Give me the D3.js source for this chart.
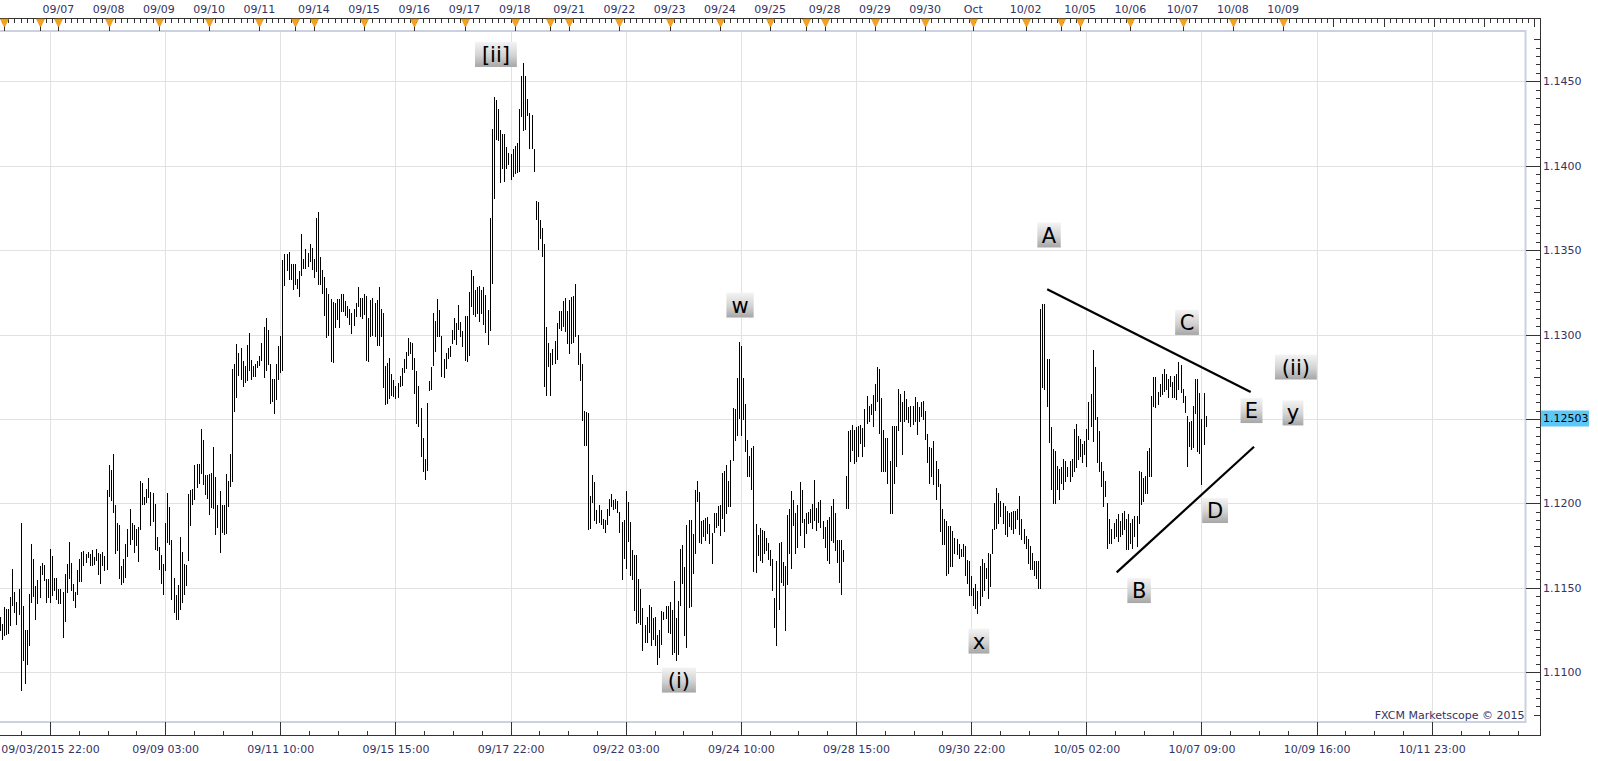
<!DOCTYPE html>
<html><head><meta charset="utf-8">
<script src="https://cdn.jsdelivr.net/npm/d3@7"></script>
<style>html,body{margin:0;padding:0;background:#fff;overflow:hidden}</style>
</head><body>
<svg id="chart" width="1598" height="761"></svg>
<script>
// ---- DATA (EUR/USD hourly bars, high / low) ----
const highs = [
1.11328,1.11288,1.11387,1.11377,1.11375,1.11446,1.11610,1.11476,1.11417,1.11492,
1.11886,1.11391,1.11249,1.11249,1.11466,1.11758,1.11669,1.11509,1.11545,1.11628,
1.11649,1.11634,1.11555,1.11555,1.11732,1.11687,1.11561,1.11561,1.11492,1.11492,
1.11476,1.11584,1.11640,1.11770,1.11647,1.11525,1.11476,1.11608,1.11673,1.11713,
1.11719,1.11703,1.11713,1.11703,1.11726,1.11683,1.11732,1.11709,1.11703,1.11713,
1.11687,1.12078,1.12226,1.12200,1.12291,1.11989,1.11886,1.11871,1.11628,1.11669,
1.11758,1.11851,1.11965,1.11886,1.11871,1.11851,1.11861,1.12131,1.12123,1.12038,
1.12088,1.12153,1.12068,1.12064,1.11999,1.11801,1.11742,1.11693,1.11640,1.11886,
1.12064,1.11979,1.11782,1.11561,1.11456,1.11515,1.11801,1.11713,1.11644,1.11638,
1.12058,1.12078,1.12084,1.12226,1.12236,1.12236,1.12439,1.12374,1.12171,1.12171,
1.12177,1.12182,1.12334,1.12157,1.11989,1.12072,1.11989,1.11989,1.12177,1.12131,
1.12291,1.12794,1.12824,1.12946,1.12893,1.12923,1.12842,1.12812,1.12936,1.13012,
1.12848,1.12812,1.12828,1.12844,1.12873,1.12952,1.13043,1.13100,1.13029,1.12828,
1.12739,1.12735,1.12828,1.12934,1.12990,1.13440,1.13479,1.13475,1.13489,1.13420,
1.13416,1.13416,1.13331,1.13377,1.13593,1.13445,1.13508,1.13481,1.13534,1.13514,
1.13445,1.13692,1.13727,1.13461,1.13380,1.13342,1.13277,1.13238,1.13208,1.13194,
1.13188,1.13212,1.13208,1.13242,1.13238,1.13198,1.13169,1.13149,1.13129,1.13153,
1.13188,1.13283,1.13218,1.13218,1.13238,1.13228,1.13100,1.13204,1.13218,1.13188,
1.13204,1.13283,1.13149,1.13129,1.12813,1.12833,1.12863,1.12764,1.12734,1.12695,
1.12715,1.12754,1.12803,1.12853,1.12896,1.12981,1.12955,1.12948,1.12863,1.12784,
1.12695,1.12567,1.12389,1.12261,1.12596,1.12724,1.12809,1.13129,1.13080,1.13208,
1.13143,1.12991,1.12857,1.12888,1.12918,1.12932,1.13030,1.13098,1.13070,1.13178,
1.13074,1.13021,1.13109,1.13113,1.13253,1.13380,1.13346,1.13267,1.13283,1.13287,
1.13267,1.13283,1.13232,1.13143,1.13692,1.14215,1.14408,1.14389,1.14333,1.14209,
1.14185,1.14189,1.14112,1.14077,1.14067,1.14100,1.14116,1.14136,1.14337,1.14531,
1.14606,1.14531,1.14396,1.14314,1.14298,1.14102,1.13790,1.13786,1.13676,1.13632,
1.13534,1.13044,1.12951,1.12892,1.12912,1.12961,1.13070,1.13139,1.13139,1.13198,
1.13218,1.13139,1.13204,1.13224,1.13228,1.13297,1.12995,1.12888,1.12823,1.12547,
1.12541,1.12537,1.12043,1.12166,1.12128,1.11964,1.11992,1.11962,1.11907,1.11903,
1.11966,1.12026,1.12057,1.12022,1.12026,1.12012,1.11952,1.11893,1.11903,1.12075,
1.12006,1.11893,1.11725,1.11695,1.11695,1.11550,1.11491,1.11378,1.11279,1.11329,
1.11398,1.11384,1.11319,1.11329,1.11220,1.11253,1.11362,1.11358,1.11392,1.11394,
1.11418,1.11368,1.11541,1.11323,1.11422,1.11729,1.11754,1.11626,1.11873,1.11903,
1.11903,1.11818,1.12081,1.12135,1.12065,1.11897,1.11903,1.11913,1.11917,1.11879,
1.11824,1.11946,1.11946,1.11986,1.11992,1.12180,1.12190,1.12230,1.12135,1.12259,
1.12566,1.12560,1.12744,1.12958,1.12932,1.12744,1.12586,1.12374,1.12279,1.12329,
1.12338,1.11879,1.11814,1.11853,1.11843,1.11834,1.11794,1.11764,1.11725,1.11669,
1.11438,1.11659,1.11764,1.11774,1.11655,1.11630,1.11933,1.11966,1.12071,1.12022,
1.11942,1.11992,1.12127,1.12081,1.11907,1.11942,1.11952,1.11966,1.11996,1.12140,
1.11972,1.12006,1.12022,1.11897,1.11863,1.11903,1.11917,1.11982,1.12026,1.11942,
1.11784,1.11784,1.11784,1.11725,1.12160,1.12428,1.12437,1.12467,1.12437,1.12453,
1.12461,1.12467,1.12447,1.12560,1.12635,1.12580,1.12586,1.12645,1.12705,1.12808,
1.12798,1.12626,1.12437,1.12388,1.12388,1.12249,1.12457,1.12457,1.12461,1.12675,
1.12648,1.12599,1.12668,1.12619,1.12569,1.12579,1.12579,1.12629,1.12599,1.12569,
1.12599,1.12609,1.12549,1.12411,1.12332,1.12326,1.12371,1.12252,1.12203,1.12114,
1.11965,1.11906,1.11896,1.11866,1.11866,1.11837,1.11797,1.11787,1.11757,1.11728,
1.11757,1.11748,1.11668,1.11658,1.11569,1.11500,1.11520,1.11480,1.11629,1.11672,
1.11649,1.11619,1.11708,1.11698,1.11847,1.12005,1.12094,1.12064,1.12015,1.12005,
1.11985,1.11955,1.11946,1.11949,1.11955,1.11955,1.11965,1.12045,1.11906,1.11847,
1.11807,1.11787,1.11748,1.11708,1.11658,1.11658,1.11658,1.13153,1.13183,1.13183,
1.12856,1.12856,1.12450,1.12322,1.12312,1.12223,1.12203,1.12213,1.12262,1.12252,
1.12213,1.12252,1.12262,1.12441,1.12470,1.12401,1.12381,1.12351,1.12371,1.12441,
1.12599,1.12648,1.12906,1.12807,1.12510,1.12431,1.12243,1.12193,1.12134,1.12005,
1.11906,1.11847,1.11886,1.11906,1.11936,1.11896,1.11946,1.11955,1.11906,1.11936,
1.11886,1.11906,1.11926,1.11926,1.12193,1.12187,1.12153,1.12163,1.12312,1.12326,
1.12639,1.12747,1.12747,1.12658,1.12708,1.12767,1.12797,1.12767,1.12738,1.12757,
1.12718,1.12757,1.12767,1.12840,1.12817,1.12678,1.12639,1.12520,1.12480,1.12490,
1.12579,1.12735,1.12735,1.12656,1.12498,1.12656,1.12518
];
const lows = [
1.11249,1.11199,1.11219,1.11229,1.11232,1.11278,1.11397,1.11357,1.11288,1.11343,
1.10895,1.11071,1.10937,1.11051,1.11160,1.11417,1.11450,1.11316,1.11411,1.11446,
1.11584,1.11549,1.11417,1.11446,1.11417,1.11460,1.11486,1.11436,1.11411,1.11413,
1.11209,1.11304,1.11476,1.11559,1.11486,1.11426,1.11387,1.11466,1.11541,1.11541,
1.11634,1.11653,1.11683,1.11634,1.11638,1.11644,1.11663,1.11584,1.11529,1.11634,
1.11604,1.11614,1.12042,1.12023,1.11950,1.11707,1.11722,1.11559,1.11525,1.11535,
1.11565,1.11689,1.11762,1.11792,1.11713,1.11752,1.11659,1.11851,1.11999,1.11995,
1.12009,1.12038,1.11874,1.11894,1.11732,1.11722,1.11614,1.11531,1.11466,1.11604,
1.11772,1.11762,1.11436,1.11357,1.11318,1.11318,1.11377,1.11417,1.11466,1.11519,
1.11663,1.11874,1.11999,1.12028,1.12098,1.12121,1.12180,1.12117,1.12054,1.12034,
1.11940,1.11979,1.11975,1.11821,1.11861,1.11713,1.11831,1.11821,1.11825,1.11983,
1.12101,1.12133,1.12548,1.12631,1.12763,1.12735,1.12694,1.12719,1.12733,1.12788,
1.12735,1.12755,1.12755,1.12808,1.12822,1.12848,1.12749,1.12788,1.12824,1.12597,
1.12607,1.12536,1.12617,1.12739,1.12779,1.12788,1.13292,1.13381,1.13331,1.13327,
1.13268,1.13298,1.13276,1.13227,1.13350,1.13392,1.13396,1.13405,1.13435,1.13386,
1.13340,1.13376,1.13301,1.13297,1.13248,1.13115,1.12987,1.12995,1.12843,1.12839,
1.13044,1.13090,1.13044,1.13139,1.13139,1.13115,1.13103,1.13060,1.13011,1.13054,
1.13113,1.13169,1.13109,1.13100,1.13119,1.12849,1.12843,1.12991,1.12995,1.12991,
1.12936,1.12936,1.12991,1.12691,1.12590,1.12592,1.12626,1.12645,1.12636,1.12626,
1.12630,1.12695,1.12699,1.12778,1.12803,1.12882,1.12888,1.12794,1.12655,1.12478,
1.12458,1.12280,1.12191,1.12142,1.12201,1.12671,1.12675,1.12817,1.12902,1.12991,
1.12991,1.12754,1.12750,1.12803,1.12863,1.12873,1.12951,1.12971,1.12942,1.13034,
1.12991,1.12932,1.12849,1.12843,1.12882,1.13169,1.13119,1.13109,1.13129,1.13080,
1.13129,1.13060,1.13015,1.12942,1.13030,1.13307,1.13806,1.14156,1.14152,1.13903,
1.13988,1.13909,1.13988,1.14008,1.13919,1.13938,1.13958,1.13962,1.13968,1.14294,
1.14211,1.14215,1.14298,1.14106,1.14106,1.13968,1.13686,1.13508,1.13573,1.13465,
1.12695,1.12645,1.12813,1.12642,1.12823,1.12833,1.12853,1.13040,1.13030,1.13050,
1.13021,1.12951,1.12892,1.12951,1.12955,1.12991,1.12823,1.12734,1.12497,1.12349,
1.12349,1.11846,1.11856,1.12008,1.11901,1.11886,1.11893,1.11879,1.11853,1.11830,
1.11879,1.11933,1.11982,1.11968,1.11972,1.11952,1.11828,1.11550,1.11679,1.11616,
1.11778,1.11576,1.11550,1.11368,1.11293,1.11299,1.11289,1.11131,1.11180,1.11180,
1.11240,1.11160,1.11200,1.11160,1.11051,1.11091,1.11170,1.11313,1.11319,1.11240,
1.11234,1.11111,1.11121,1.11071,1.11111,1.11398,1.11527,1.11220,1.11150,1.11388,
1.11392,1.11586,1.11705,1.12012,1.11774,1.11764,1.11808,1.11784,1.11824,1.11764,
1.11645,1.11828,1.11863,1.11873,1.11814,1.11913,1.11834,1.11942,1.11982,1.11982,
1.12259,1.12374,1.12408,1.12507,1.12408,1.12501,1.12313,1.12160,1.12160,1.12085,
1.11602,1.11596,1.11695,1.11665,1.11655,1.11705,1.11725,1.11669,1.11636,1.11487,
1.11269,1.11160,1.11372,1.11537,1.11517,1.11249,1.11521,1.11705,1.11616,1.11873,
1.11705,1.11744,1.11814,1.11893,1.11744,1.11824,1.11883,1.11893,1.11857,1.11903,
1.11843,1.11893,1.11863,1.11794,1.11741,1.11665,1.11645,1.11784,1.11774,1.11725,
1.11655,1.11537,1.11463,1.11661,1.11972,1.11972,1.12249,1.12319,1.12239,1.12249,
1.12279,1.12358,1.12279,1.12338,1.12477,1.12487,1.12527,1.12457,1.12556,1.12606,
1.12418,1.12190,1.12190,1.12190,1.12121,1.11942,1.11942,1.12121,1.12220,1.12437,
1.12490,1.12292,1.12490,1.12500,1.12480,1.12460,1.12470,1.12490,1.12411,1.12490,
1.12520,1.12500,1.12381,1.12243,1.12124,1.12163,1.12114,1.12025,1.12104,1.11837,
1.11757,1.11757,1.11579,1.11589,1.11629,1.11629,1.11708,1.11698,1.11678,1.11688,
1.11688,1.11579,1.11530,1.11460,1.11460,1.11401,1.11381,1.11351,1.11401,1.11450,
1.11490,1.11559,1.11441,1.11510,1.11708,1.11847,1.11856,1.11886,1.11926,1.11886,
1.11817,1.11807,1.11866,1.11847,1.11827,1.11856,1.11906,1.11817,1.11787,1.11767,
1.11738,1.11649,1.11609,1.11609,1.11579,1.11559,1.11500,1.11500,1.12688,1.12678,
1.12579,1.12361,1.12084,1.12005,1.12005,1.12084,1.12025,1.12124,1.12084,1.12134,
1.12163,1.12134,1.12163,1.12193,1.12213,1.12262,1.12282,1.12243,1.12292,1.12223,
1.12381,1.12460,1.12371,1.12500,1.12243,1.12193,1.12104,1.11985,1.12045,1.11738,
1.11767,1.11767,1.11797,1.11807,1.11777,1.11807,1.11817,1.11847,1.11728,1.11728,
1.11767,1.11738,1.11807,1.11748,1.11886,1.11995,1.12015,1.12064,1.12064,1.12163,
1.12163,1.12579,1.12569,1.12589,1.12639,1.12648,1.12668,1.12678,1.12629,1.12698,
1.12629,1.12629,1.12619,1.12678,1.12658,1.12599,1.12540,1.12223,1.12342,1.12322,
1.12332,1.12537,1.12310,1.12300,1.12118,1.12350,1.12458
];
const lastPrice = 1.12503;

// x-axis (bottom) ticks: bar index + label
const bottomTickIdx = [24,79,134,189,244,299,354,409,464,519,574,629,684];
const bottomTickLabels = ["09/03/2015 22:00","09/09 03:00","09/11 10:00","09/15 15:00","09/17 22:00","09/22 03:00","09/24 10:00","09/28 15:00","09/30 22:00","10/05 02:00","10/07 09:00","10/09 16:00","10/11 23:00"];
// day markers (top)
const dayIdx = [2,19,28,52,76,100,124,141,150,174,198,222,246,263,272,296,320,344,368,385,394,418,442,465,490,507,516,540,565,589,613];
const dayLabels = ["","","09/07","09/08","09/09","09/10","09/11","","09/14","09/15","09/16","09/17","09/18","","09/21","09/22","09/23","09/24","09/25","","09/28","09/29","09/30","Oct","10/02","","10/05","10/06","10/07","10/08","10/09"];
const futureDayIdx = [637,661,685,709,733];
// price axis
const priceTicks = [1.110,1.115,1.120,1.125,1.130,1.135,1.140,1.145];
// wave labels
const annoText  = ["[ii]","w","(i)","x","A","C","(ii)","E","y","D","B"];
const annoIdx   = [237.0,353.6,324.4,467.7,501.2,567.1,619.1,597.9,617.7,580.5,544.2];
const annoPrice = [1.14659,1.13175,1.10954,1.11185,1.13590,1.13072,1.12808,1.12550,1.12536,1.11958,1.11484];
// triangle trend lines [barIndex, price]
const trendUpper = [[500.3,1.13268],[597.5,1.12660]];
const trendLower = [[533.5,1.11592],[599.1,1.12336]];

// ---- DRAWING ----
const svg = d3.select("#chart");
const FONT = "'DejaVu Sans', Verdana, sans-serif";
const TXT = "#333366";
const plotRight = 1525.5, plotTop = 31, plotBottom = 722;
const axisX = 1540.5, topAxisY = 18.5, botAxisY = 735.5;

const x = d3.scaleLinear().domain([0,100]).range([-0.25, 209.11]);
const y = d3.scaleLinear().domain([1.110,1.145]).range([672.3, 81.3]);
const crisp = v => Math.round(v) + 0.5;

const defs = svg.append("defs");
const grad = defs.append("linearGradient").attr("id","boxGrad").attr("x1",0).attr("y1",0).attr("x2",0).attr("y2",1);
grad.append("stop").attr("offset","0%").attr("stop-color","#f4f4f4");
grad.append("stop").attr("offset","55%").attr("stop-color","#d2d2d2");
grad.append("stop").attr("offset","100%").attr("stop-color","#a6a6a6");
defs.append("clipPath").attr("id","plotClip").append("rect")
  .attr("x",0).attr("y",plotTop).attr("width",plotRight).attr("height",plotBottom-plotTop);

// grid
const grid = svg.append("g").attr("shape-rendering","crispEdges");
grid.selectAll("line.h").data(priceTicks).join("line").attr("class","h")
  .attr("x1",0).attr("x2",plotRight).attr("y1",d=>crisp(y(d))).attr("y2",d=>crisp(y(d)))
  .attr("stroke","#e1e1e1").attr("stroke-width",1.5);
grid.selectAll("line.v").data(bottomTickIdx.filter(i=>x(i)<plotRight)).join("line").attr("class","v")
  .attr("x1",d=>crisp(x(d))).attr("x2",d=>crisp(x(d))).attr("y1",plotTop).attr("y2",plotBottom)
  .attr("stroke","#e1e1e1").attr("stroke-width",1.5);

// frame
svg.append("rect").attr("x",-2).attr("y",plotTop).attr("width",plotRight+2).attr("height",plotBottom-plotTop)
  .attr("fill","none").attr("stroke","#c9d2de").attr("stroke-width",2);

// bars
svg.append("g").attr("clip-path","url(#plotClip)").attr("shape-rendering","crispEdges")
  .selectAll("line").data(highs).join("line")
  .attr("x1",(d,i)=>crisp(x(i))).attr("x2",(d,i)=>crisp(x(i)))
  .attr("y1",d=>Math.round(y(d))).attr("y2",(d,i)=>Math.round(y(lows[i]))+1)
  .attr("stroke","#000").attr("stroke-width",1);

// trend lines
const line = d3.line().x(d=>x(d[0])).y(d=>y(d[1]));
[trendUpper, trendLower].forEach(t=>{
  svg.append("path").attr("d",line(t)).attr("fill","none").attr("stroke","#000").attr("stroke-width",2.2);
});

// annotations
const ag = svg.append("g");
annoText.forEach((t,k)=>{
  const g = ag.append("g").attr("transform",`translate(${x(annoIdx[k])},${y(annoPrice[k])})`);
  const r = g.append("rect");
  const tx = g.append("text").text(t).attr("text-anchor","middle").attr("dy","0.36em")
    .attr("font-family",FONT).attr("font-size",21).attr("fill","#000");
  const w = tx.node().getComputedTextLength()*1.35+4;
  r.attr("x",-w/2).attr("y",-12.5).attr("width",w).attr("height",25).attr("fill","url(#boxGrad)");
});

// ---- axes ----
const ax = svg.append("g").attr("shape-rendering","crispEdges");
ax.append("line").attr("x1",0).attr("x2",axisX).attr("y1",topAxisY).attr("y2",topAxisY).attr("stroke","#333");
ax.append("line").attr("x1",0).attr("x2",axisX).attr("y1",botAxisY).attr("y2",botAxisY).attr("stroke","#333");
ax.append("line").attr("x1",axisX).attr("x2",axisX).attr("y1",topAxisY).attr("y2",botAxisY).attr("stroke","#333");

// bottom axis
const bAxis = d3.axisBottom(x).tickValues(bottomTickIdx).tickFormat((d,i)=>bottomTickLabels[i])
  .tickSize(-13).tickPadding(10);
const bg = svg.append("g").attr("transform",`translate(0,${botAxisY-0.5})`).call(bAxis);
bg.select(".domain").remove();
bg.selectAll(".tick line").attr("stroke","#333").attr("shape-rendering","crispEdges");
bg.selectAll(".tick text").attr("font-family",FONT).attr("font-size",11).attr("fill",TXT);
const bMinor = d3.range(24-55, 740, 13.75).filter(v=>!bottomTickIdx.includes(v) && x(v)>0 && x(v)<axisX);
ax.selectAll("line.bm").data(bMinor).join("line").attr("class","bm")
  .attr("x1",d=>crisp(x(d))).attr("x2",d=>crisp(x(d))).attr("y1",botAxisY-5).attr("y2",botAxisY).attr("stroke","#333");

// top axis
const tMinor = d3.range(1, 740, 3).filter(v=>x(v)<axisX-2);
ax.selectAll("line.tm").data(tMinor).join("line").attr("class","tm")
  .attr("x1",d=>crisp(x(d))).attr("x2",d=>crisp(x(d))).attr("y1",topAxisY).attr("y2",topAxisY+4).attr("stroke","#333");
ax.selectAll("line.fd").data(futureDayIdx.filter(v=>x(v)<axisX-2)).join("line").attr("class","fd")
  .attr("x1",d=>crisp(x(d))).attr("x2",d=>crisp(x(d))).attr("y1",topAxisY).attr("y2",topAxisY+8).attr("stroke","#333");
ax.selectAll("line.dm").data(dayIdx).join("line").attr("class","dm")
  .attr("x1",d=>crisp(x(d))).attr("x2",d=>crisp(x(d))).attr("y1",topAxisY).attr("y2",plotTop).attr("stroke","#333");
svg.append("g").selectAll("path").data(dayIdx).join("path")
  .attr("d",d=>{const c=crisp(x(d)); return `M${c-4},${topAxisY+0.5}L${c+4},${topAxisY+0.5}L${c},${topAxisY+8.5}Z`;})
  .attr("fill","#f7a21c").attr("stroke","#d98500").attr("stroke-width",0.6);
svg.append("g").selectAll("text").data(dayIdx).join("text")
  .attr("x",d=>x(d)).attr("y",13).attr("text-anchor","middle")
  .attr("font-family",FONT).attr("font-size",11).attr("fill",TXT)
  .text((d,i)=>dayLabels[i]);

// right axis (the label hidden under the last-price box is not drawn, as in the original)
const fmt = d3.format(".4f");
const rAxis = d3.axisRight(y).tickValues(priceTicks)
  .tickFormat(d=>Math.abs(y(d)-y(lastPrice))<14 ? "" : fmt(d)).tickSize(-14).tickPadding(3);
const rg = svg.append("g").attr("transform",`translate(${axisX-0.5},0)`).call(rAxis);
rg.select(".domain").remove();
rg.selectAll(".tick line").attr("stroke","#333").attr("shape-rendering","crispEdges");
rg.selectAll(".tick text").attr("font-family",FONT).attr("font-size",11).attr("fill",TXT);
const rMinor = d3.range(0, 82).map(k=>+(1.1075+k*0.0005).toFixed(4))
  .filter(v=>!priceTicks.some(p=>Math.abs(p-v)<1e-7) && y(v)>plotTop && y(v)<plotBottom);
ax.selectAll("line.rm").data(rMinor).join("line").attr("class","rm")
  .attr("x1",d=>axisX-(Math.abs((d*10000)%50-25)<0.5?7:4.5)).attr("x2",axisX)
  .attr("y1",d=>crisp(y(d))).attr("y2",d=>crisp(y(d))).attr("stroke","#333");

// last price marker
const ly = y(lastPrice);
svg.append("rect").attr("x",axisX+0.5).attr("y",ly-8).attr("width",48).attr("height",16).attr("fill","#5cc8f7");
svg.append("text").attr("x",axisX+2.5).attr("y",ly).attr("dy","0.36em")
  .attr("font-family",FONT).attr("font-size",11).attr("fill","#000").text(lastPrice.toFixed(5));

// copyright
svg.append("text").attr("x",plotRight-1).attr("y",719).attr("text-anchor","end")
  .attr("font-family",FONT).attr("font-size",11).attr("fill",TXT).text("FXCM Marketscope © 2015");
</script>
</body></html>
